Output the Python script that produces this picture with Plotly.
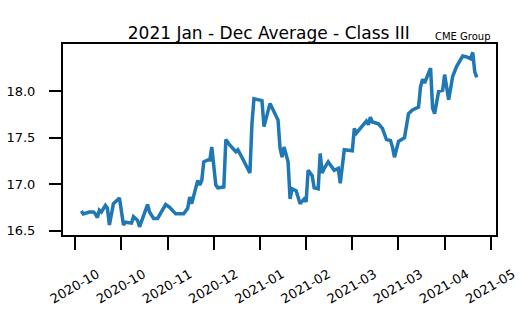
import plotly.graph_objects as go

# ---- data ----
dates = [
    "2020-10-04", "2020-10-05", "2020-10-08", "2020-10-10", "2020-10-11", "2020-10-12",
    "2020-10-13", "2020-10-14", "2020-10-16", "2020-10-17", "2020-10-18", "2020-10-20",
    "2020-10-23", "2020-10-25", "2020-10-26", "2020-10-29", "2020-10-30", "2020-11-01",
    "2020-11-02", "2020-11-06", "2020-11-07", "2020-11-09", "2020-11-11", "2020-11-13",
    "2020-11-14", "2020-11-15", "2020-11-17", "2020-11-20", "2020-11-24", "2020-11-26",
    "2020-11-27", "2020-11-28", "2020-12-01", "2020-12-02", "2020-12-03", "2020-12-04",
    "2020-12-06", "2020-12-07", "2020-12-08", "2020-12-10", "2020-12-11", "2020-12-14",
    "2020-12-15", "2020-12-17", "2020-12-20", "2020-12-21", "2020-12-23", "2020-12-27",
    "2020-12-28", "2020-12-29", "2021-01-02", "2021-01-03", "2021-01-06", "2021-01-10",
    "2021-01-11", "2021-01-12", "2021-01-13", "2021-01-15", "2021-01-16", "2021-01-17",
    "2021-01-19", "2021-01-21", "2021-01-23", "2021-01-24", "2021-01-25", "2021-01-27",
    "2021-01-28", "2021-01-30", "2021-01-31", "2021-02-01", "2021-02-02", "2021-02-04",
    "2021-02-07", "2021-02-09", "2021-02-10", "2021-02-12", "2021-02-16", "2021-02-17",
    "2021-02-18", "2021-02-21", "2021-02-23", "2021-02-24", "2021-02-25", "2021-02-26",
    "2021-03-01", "2021-03-03", "2021-03-05", "2021-03-07", "2021-03-08", "2021-03-09",
    "2021-03-11", "2021-03-14", "2021-03-16", "2021-03-18", "2021-03-21", "2021-03-22",
    "2021-03-23", "2021-03-24", "2021-03-27", "2021-03-28", "2021-03-29", "2021-03-31",
    "2021-04-02", "2021-04-03", "2021-04-05", "2021-04-07", "2021-04-09", "2021-04-12",
    "2021-04-14", "2021-04-16", "2021-04-17", "2021-04-18", "2021-04-19",
]
prices = [
    16.71, 16.68, 16.70, 16.70, 16.68, 16.64,
    16.72, 16.70, 16.77, 16.74, 16.56, 16.79,
    16.85, 16.56, 16.59, 16.58, 16.65, 16.61,
    16.54, 16.78, 16.70, 16.63, 16.63, 16.70,
    16.74, 16.78, 16.75, 16.68, 16.68, 16.74,
    16.86, 16.79, 17.04, 16.99, 17.04, 17.24,
    17.26, 17.26, 17.40, 16.99, 16.96, 16.97,
    17.48, 17.42, 17.35, 17.37, 17.29, 17.12,
    17.65, 17.92, 17.90, 17.62, 17.87, 17.69,
    17.39, 17.29, 17.40, 17.24, 16.84, 16.95,
    16.93, 16.79, 16.84, 16.81, 17.15, 17.09,
    16.96, 16.95, 17.33, 17.12, 17.17, 17.24,
    17.15, 17.17, 17.01, 17.37, 17.36, 17.60,
    17.55, 17.63, 17.68, 17.64, 17.72, 17.67,
    17.65, 17.60, 17.48, 17.47, 17.40, 17.29,
    17.46, 17.50, 17.76, 17.80, 17.83, 18.05,
    18.13, 18.09, 18.25, 17.82, 17.76, 18.00,
    18.01, 18.18, 17.91, 18.16, 18.27, 18.38,
    18.37, 18.35, 18.42, 18.21, 18.15,
]
tick_dates = ["2020-10-01", "2020-10-24", "2020-11-16", "2020-12-09", "2021-01-01",
              "2021-01-24", "2021-02-16", "2021-03-11", "2021-04-03", "2021-04-26"]
tick_labels = ["2020-10", "2020-10", "2020-11", "2020-12", "2021-01",
               "2021-02", "2021-03", "2021-03", "2021-04", "2021-05"]
y_ticks = [16.5, 17.0, 17.5, 18.0]

title_text = "2021 Jan - Dec Average - Class III"
source_text = "CME Group"

FONT = "DejaVu Sans"

fig = go.Figure()
fig.add_trace(go.Scatter(
    x=dates, y=prices, mode="lines",
    line=dict(color="#1f77b4", width=3.5),
    hoverinfo="skip", showlegend=False,
))

fig.update_layout(
    width=528, height=332,
    margin=dict(l=63, r=32, t=44, b=97),
    paper_bgcolor="white", plot_bgcolor="white",
    font=dict(family=FONT, color="black", size=13),
    title=dict(text=title_text, font=dict(family=FONT, size=17, color="black"),
               x=268.8 / 528, xanchor="center", xref="container",
               y=1 - 33 / 332, yanchor="middle", yref="container"),
    showlegend=False,
)
fig.update_xaxes(
    type="date",
    range=["2020-09-24 21:00", "2021-04-28 14:00"],
    tickmode="array", tickvals=tick_dates, ticktext=tick_labels,
    tickangle=-30,
    ticks="outside", ticklen=13, tickwidth=2, tickcolor="black",
    showline=True, linewidth=2, linecolor="black", mirror=True,
    showgrid=False, zeroline=False, automargin=False,
    tickfont=dict(family=FONT, size=13, color="black"),
    ticklabelshift=22, ticklabelstandoff=12,
)
fig.update_yaxes(
    range=[16.452, 18.51],
    tickmode="array", tickvals=y_ticks, ticktext=[f"{v:.1f}" for v in y_ticks],
    ticks="outside", ticklen=12, tickwidth=2, tickcolor="black",
    showline=True, linewidth=2, linecolor="black", mirror=True,
    showgrid=False, zeroline=False, automargin=False,
    tickfont=dict(family=FONT, size=13, color="black"),
    ticklabelstandoff=11,
)
fig.add_annotation(
    text=source_text, xref="paper", yref="paper",
    x=(490.7 - 62.7) / 433.3, y=1, xanchor="right", yanchor="bottom",
    xshift=2, showarrow=False, font=dict(family=FONT, size=10, color="black"),
)

fig.write_html("out.html")
